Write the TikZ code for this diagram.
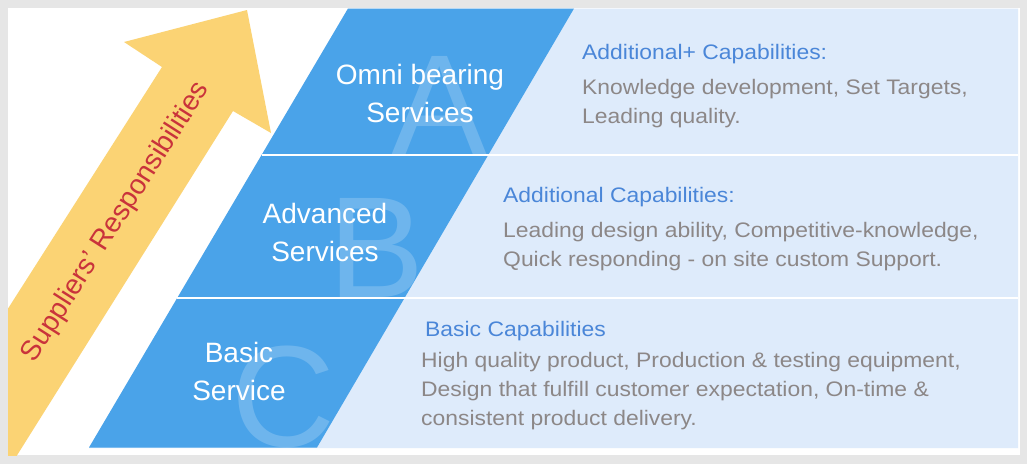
\documentclass[tikz,border=0pt]{standalone}
\usepackage{fontspec}
\setmainfont{Liberation Sans}
\newfontfamily\rtxt[FakeStretch=1.09]{Liberation Sans}
\definecolor{bord}{HTML}{E6E6E6}
\definecolor{band}{HTML}{4AA3E9}
\definecolor{panel}{HTML}{DEEBFB}
\definecolor{arrowy}{HTML}{FBD374}
\definecolor{redt}{HTML}{C9333B}
\definecolor{titleb}{HTML}{4A86D8}
\definecolor{bodyg}{HTML}{8C8787}
\begin{document}
\begin{tikzpicture}[x=1pt,y=-1pt,
  big/.style={text=white,font=\fontsize{28}{38}\selectfont,align=center,inner sep=0pt},
  wm/.style={text=white,opacity=0.2,font=\fontsize{144}{144}\selectfont,inner sep=0pt,anchor=base},
  ttl/.style={text=titleb,font=\rtxt\fontsize{21}{29}\selectfont,inner sep=0pt,anchor=base west},
  body/.style={text=bodyg,font=\rtxt\fontsize{21}{29}\selectfont,inner sep=0pt,anchor=north west,align=left},
  divider/.style={white,line width=2pt}]
\useasboundingbox (0,0) rectangle (1027,464);
\fill[bord] (0,0) rectangle (1027,464);
\fill[white] (8,8) rectangle (1020,455);
% arrow
\begin{scope}
\clip (8,8) rectangle (1020,455);
\fill[arrowy] (247,10) -- (271,133) -- (233,111) -- (-11,500) -- (-114,500) -- (162,67) -- (124,42) -- cycle;
\end{scope}
\node[rotate=57.5,text=redt,font=\fontsize{28}{28}\selectfont,inner sep=0pt] (resp) at (116,222) {Suppliers’ Responsibilities};
% panel and band
\fill[panel] (348,8.5) -- (1018,8.5) -- (1018,448) -- (89,448) -- cycle;
\fill[band] (348,8.5) -- (574,8.5) -- (317,447.5) -- (89,447.5) -- cycle;
% watermarks
\begin{scope}
\clip (348,8.5) -- (574,8.5) -- (317,447.5) -- (89,447.5) -- cycle;
\begin{scope}
\clip (0,8) rectangle (1027,155);
\node[wm] (wA) at (440,155) {A};
\end{scope}
\begin{scope}
\clip (0,155) rectangle (1027,298);
\node[wm] (wB) at (377,297) {B};
\end{scope}
\begin{scope}
\clip (0,298) rectangle (1027,448);
\node[wm] (wC) at (283,446) {C};
\end{scope}
\end{scope}
% dividers
\draw[divider] (261.6,155) -- (1018,155);
\draw[divider] (177.2,298) -- (1018,298);
% labels
\node[big] (lA) at (420,93) {Omni bearing\\Services};
\node[big] (lB) at (325,232) {Advanced\\Services};
\node[big] (lC) at (239,371) {Basic\\Service};
% right texts
\node[ttl] (tA) at (582,59) {Additional+ Capabilities:};
\node[body] (bA) at (582,79) {Knowledge development, Set Targets,\\Leading quality.};
\node[ttl] (tB) at (503,202) {Additional Capabilities:};
\node[body] (bB) at (503,222) {Leading design ability, Competitive-knowledge,\\Quick responding - on site custom Support.};
\node[ttl] (tC) at (425,336) {Basic Capabilities};
\node[body] (bC) at (421,352.5) {High quality product, Production \& testing equipment,\\Design that fulfill customer expectation, On-time \&\\consistent product delivery.};
\end{tikzpicture}
\end{document}
